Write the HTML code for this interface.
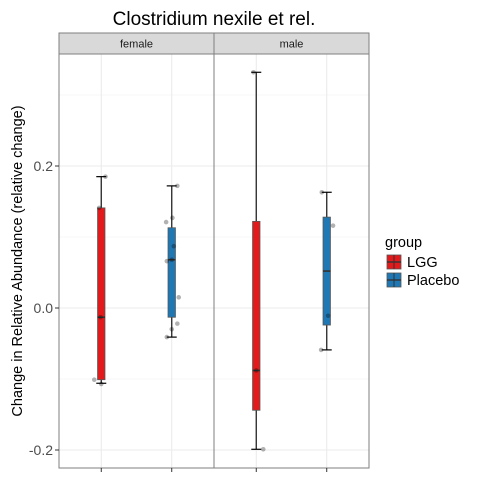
<!DOCTYPE html>
<html><head><meta charset="utf-8"><style>body{margin:0;background:#fff}svg{display:block;font-family:"Liberation Sans",sans-serif}</style></head>
<body>
<svg id="c" width="480" height="480" xmlns="http://www.w3.org/2000/svg"></svg>
<script>
const panels=["female","male"];
const groups=["LGG","Placebo"];
const colors=["#e31a1c","#1f78b4"];
// [min,q1,median,q3,max] per panel per group
const statsFemale=[[-0.106,-0.101,-0.013,0.141,0.185],[-0.041,-0.013,0.068,0.113,0.172]];
const statsMale=[[-0.199,-0.144,-0.088,0.122,0.332],[-0.059,-0.024,0.052,0.128,0.163]];
// points: [value, jitter offset in category units]
const ptsFemaleLGG=[[0.185,0.06],[0.141,-0.03],[-0.013,-0.01],[-0.101,-0.1],[-0.107,0]];
const ptsFemalePlacebo=[[0.172,0.08],[0.127,0.01],[0.121,-0.08],[0.087,0.03],[0.066,-0.07],[0.068,0],[0.015,0.1],[-0.022,0.08],[-0.030,0],[-0.041,-0.07]];
const ptsMaleLGG=[[0.332,-0.04],[-0.088,0],[-0.199,0.1]];
const ptsMalePlacebo=[[0.163,-0.07],[0.116,0.09],[-0.011,0.02],[-0.059,-0.08]];
const yTicks=[-0.2,0,0.2];
const yTickLabels=["-0.2","0.0","0.2"];
const yMinor=[-0.1,0.1,0.3];

const svg=document.getElementById('c');
const NS="http://www.w3.org/2000/svg";
function el(t,a,p){const e=document.createElementNS(NS,t);for(const k in a)e.setAttribute(k,a[k]);(p||svg).appendChild(e);return e;}
const y=v=>308-710*v;
const panelX=[59,214], panelW=155, pTop=54, pBot=468;
const x=(p,g)=>panelX[p]+panelW*(g+0.6)/2.2;
const stats=[statsFemale,statsMale];
const pts=[[ptsFemaleLGG,ptsFemalePlacebo],[ptsMaleLGG,ptsMalePlacebo]];

const t=el('text',{x:214,y:25,'text-anchor':'middle','font-size':19,fill:'#000'});t.textContent="Clostridium nexile et rel.";



panels.forEach((pn,p)=>{
  const px=panelX[p];
  const bg=el('rect',{x:px,y:pTop,width:panelW,height:pBot-pTop,fill:'#fff'});
  
  
  yMinor.forEach(v=>el('line',{x1:px,x2:px+panelW,y1:y(v),y2:y(v),stroke:'#f0f0f0','stroke-width':0.6}));
  yTicks.forEach(v=>el('line',{x1:px,x2:px+panelW,y1:y(v),y2:y(v),stroke:'#ebebeb','stroke-width':1.1}));
  groups.forEach((g,gi)=>el('line',{x1:x(p,gi),x2:x(p,gi),y1:pTop,y2:pBot,stroke:'#ebebeb','stroke-width':1.1}));
  groups.forEach((g,gi)=>{
    const s=stats[p][gi],cx=x(p,gi),hw=3.7;
    const w=el('line',{x1:cx,x2:cx,y1:y(s[0]),y2:y(s[4]),stroke:'#333','stroke-width':1.4});
    
    
    el('line',{x1:cx-5,x2:cx+5,y1:y(s[0]),y2:y(s[0]),stroke:'#000','stroke-width':1.2});
    el('line',{x1:cx-5,x2:cx+5,y1:y(s[4]),y2:y(s[4]),stroke:'#000','stroke-width':1.2});
    const b=el('rect',{x:cx-hw,y:y(s[3]),width:2*hw,height:y(s[1])-y(s[3]),fill:colors[gi],stroke:'#555','stroke-width':0.8});
    
    
    el('line',{x1:cx-hw,x2:cx+hw,y1:y(s[2]),y2:y(s[2]),stroke:'#333','stroke-width':1.6});
    pts[p][gi].forEach(pt=>{
      const c=el('circle',{cx:cx+pt[1]*70,cy:y(pt[0]),r:2.3,fill:'#000','fill-opacity':0.3});
      
      
    });
  });
  el('rect',{x:px,y:pTop,width:panelW,height:pBot-pTop,fill:'none',stroke:'#7f7f7f','stroke-width':1});
  const st=el('rect',{x:px,y:33,width:panelW,height:21,fill:'#d9d9d9',stroke:'#7f7f7f','stroke-width':1});
  
  
  const sl=el('text',{x:px+panelW/2,y:47.5,'text-anchor':'middle','font-size':11,fill:'#1a1a1a'});sl.textContent=pn;
  
  
});
yTicks.forEach((v,i)=>{
  el('line',{x1:55,x2:59,y1:y(v),y2:y(v),stroke:'#333','stroke-width':1});
  const tl=el('text',{x:53,y:y(v)+5,'text-anchor':'end','font-size':14,fill:'#4d4d4d'});tl.textContent=yTickLabels[i];
  
  
});
panels.forEach((pn,p)=>groups.forEach((g,gi)=>el('line',{x1:x(p,gi),x2:x(p,gi),y1:468,y2:472,stroke:'#333','stroke-width':1})));
const yt=el('text',{transform:'translate(22,261) rotate(-90)','text-anchor':'middle','font-size':14.5,fill:'#000'});yt.textContent="Change in Relative Abundance (relative change)";


const lt=el('text',{x:385,y:247,'font-size':14.5,fill:'#000'});lt.textContent="group";


groups.forEach((g,gi)=>{
  const ky=255+gi*18;
  const k=el('rect',{x:387,y:ky,width:14,height:14,fill:colors[gi],stroke:'#555','stroke-width':0.8});
  
  
  el('line',{x1:394,x2:394,y1:ky,y2:ky+14,stroke:'#333','stroke-width':1});
  el('line',{x1:387,x2:401,y1:ky+7,y2:ky+7,stroke:'#333','stroke-width':1.4});
  const l=el('text',{x:407,y:ky+12,'font-size':14.5,fill:'#000'});l.textContent=g;
  
  
});
</script>
</body></html>
